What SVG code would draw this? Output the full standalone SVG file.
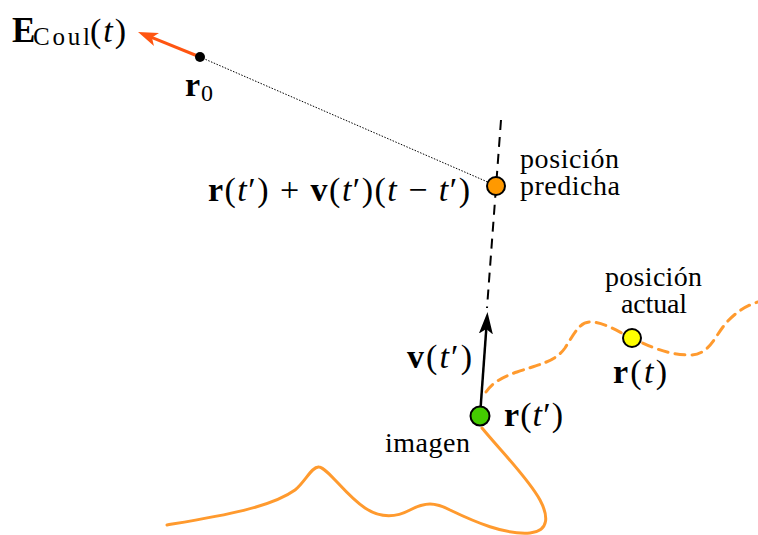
<svg xmlns="http://www.w3.org/2000/svg" width="758" height="535" viewBox="0 0 758 535">
<style>
.t{font-family:"Liberation Serif","Times New Roman",serif;fill:#000;font-size:28px}
.m{font-size:34px}
.b{font-weight:bold;font-style:normal}
.i{font-style:italic}
.orange{fill:none;stroke:#ff9a2e;stroke-width:3;stroke-linecap:round}
.node{stroke:#000;stroke-width:2}
</style>
<defs>
<marker id="ahR" viewBox="0 0 20 14" refX="10" refY="7" markerWidth="20" markerHeight="14" orient="auto" markerUnits="userSpaceOnUse">
<path d="M0,0 L20,7 L0,14 L5,7 z" fill="#ff5511"/>
</marker>
<marker id="ahK" viewBox="0 0 22 14" refX="11" refY="7" markerWidth="22" markerHeight="14" orient="auto" markerUnits="userSpaceOnUse">
<path d="M0,0 L22,7 L0,14 L5,7 z" fill="#000"/>
</marker>
</defs>
<g id="connectors">
<path id="trajectory-past" class="orange" d="M167,525 C 220,516 270,508 295,490 C 305,482 312,466 319,467 C 328,468 345,495 365,508 C 380,518 395,518 410,510 C 425,502 435,502 450,510 C 475,522 505,535 530,533 C 550,531 548,515 540,500 C 528,478 500,450 482,428"/>
<path id="trajectory-future" class="orange" stroke-dasharray="10,7" d="M486,392 C 492,383 502,377 517,372 C 540,364 555,362 565,348 C 575,332 580,322 590,322 C 605,322 620,333 632,338 C 645,344 665,355 690,355 C 710,355 715,335 727,322 C 737,311 748,305 758,302"/>
<line id="prediction-line" x1="501" y1="120" x2="487" y2="308" stroke="#000" stroke-width="2" stroke-dasharray="10,7"/>
<line id="dotted" x1="200" y1="57" x2="490" y2="183" stroke="#000" stroke-width="1" stroke-dasharray="1.5,1.5"/>
<line id="velocity" x1="480" y1="416" x2="486.7" y2="323" stroke="#000" stroke-width="2.5" marker-end="url(#ahK)"/>
<line id="field" x1="200" y1="57" x2="147.3" y2="35.7" stroke="#ff5511" stroke-width="3" marker-end="url(#ahR)"/>
</g>
<g id="r0">
<circle cx="200" cy="57" r="5" fill="#000"/>
<text class="t m b" x="185" y="96">r</text>
<text class="t" x="201" y="101" style="font-size:24px">0</text>
</g>
<g id="ecoul">
<text class="t b" x="12" y="42" style="font-size:35px">E</text>
<text class="t" x="33" y="45" style="font-size:25px" textLength="57" lengthAdjust="spacing">Coul</text>
<text class="t m" x="90" y="42" textLength="36" lengthAdjust="spacing">(<tspan class="i">t</tspan>)</text>
</g>
<g id="predicted">
<circle class="node" cx="496" cy="186" r="9" fill="#ff9900"/>
<text class="t" x="520" y="168" textLength="99" lengthAdjust="spacing">posición</text>
<text class="t" x="520" y="195" textLength="100" lengthAdjust="spacing">predicha</text>
<text class="t m" x="208" y="201" textLength="262" lengthAdjust="spacing"><tspan class="b">r</tspan>(<tspan class="i">t</tspan>′) + <tspan class="b">v</tspan>(<tspan class="i">t</tspan>′)(<tspan class="i">t</tspan> − <tspan class="i">t</tspan>′)</text>
</g>
<g id="actual">
<circle class="node" cx="632" cy="338" r="9" fill="#ffff00"/>
<text class="t" x="605" y="286" textLength="97" lengthAdjust="spacing">posición</text>
<text class="t" x="621" y="313" textLength="66" lengthAdjust="spacing">actual</text>
<text class="t m" x="613" y="383" textLength="54" lengthAdjust="spacing"><tspan class="b">r</tspan>(<tspan class="i">t</tspan>)</text>
</g>
<g id="image">
<circle class="node" cx="480" cy="416" r="9.5" fill="#44cc00"/>
<text class="t" x="385" y="452" textLength="85" lengthAdjust="spacing">imagen</text>
<text class="t m" x="504" y="426" textLength="59" lengthAdjust="spacing"><tspan class="b">r</tspan>(<tspan class="i">t</tspan>′)</text>
<text class="t m" x="407" y="368" textLength="65" lengthAdjust="spacing"><tspan class="b">v</tspan>(<tspan class="i">t</tspan>′)</text>
</g>
</svg>
